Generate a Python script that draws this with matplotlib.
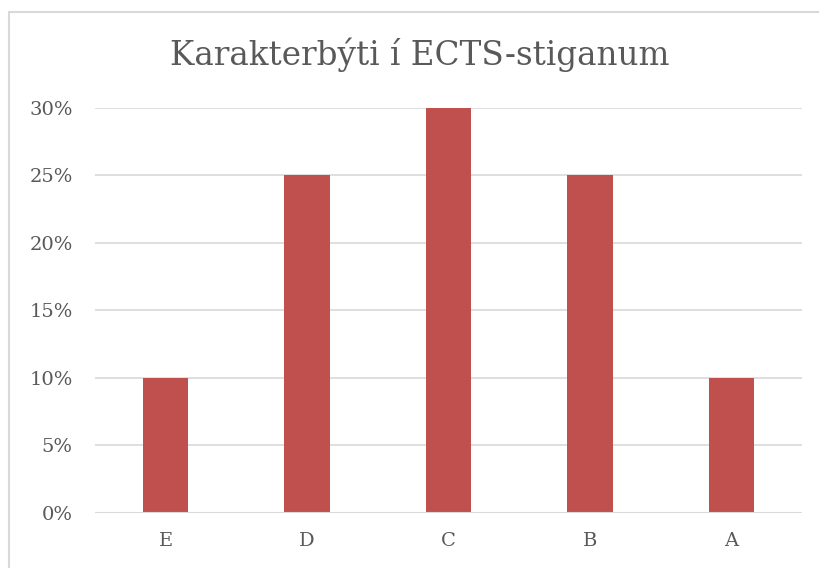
import matplotlib
matplotlib.use("Agg")
import matplotlib.pyplot as plt
from matplotlib.patches import Rectangle
from matplotlib.ticker import FuncFormatter

categories = ["E", "D", "C", "B", "A"]
values = [0.10, 0.25, 0.30, 0.25, 0.10]
title = "Karakterbýti í ECTS-stiganum"

W, H = 820, 568
fig = plt.figure(figsize=(W / 100, H / 100), dpi=100)
plt.rcParams['font.family'] = ['DejaVu Serif']

# outer border (left and top visible)
fig.patches.append(Rectangle((9 / W, -0.1), 1.2, 1 - 12 / H + 0.1, transform=fig.transFigure,
                             fill=False, edgecolor='#D9D9D9', linewidth=1.5))

left, right = 95 / W, 802 / W
bottom, top = 1 - 513 / H, 1 - 107.5 / H
ax = fig.add_axes([left, bottom, right - left, top - bottom])
x = range(len(categories))
ax.bar(x, values, width=0.32, color='#C0504D', zorder=3)
ax.set_xlim(-0.5, len(categories) - 0.5)
ax.set_ylim(0, 0.30)
ax.set_yticks([0, 0.05, 0.10, 0.15, 0.20, 0.25, 0.30])
ax.yaxis.set_major_formatter(FuncFormatter(lambda v, p: f"{round(v * 100)}%"))
ax.set_xticks(list(x))
ax.set_xticklabels(categories)
ax.grid(axis='y', color='#D9D9D9', linewidth=1.2, zorder=0)
for s in ax.spines.values():
    s.set_visible(False)
ax.axhline(0, color='#D9D9D9', linewidth=1.5, zorder=4)
ax.tick_params(axis='both', length=0, labelsize=14, colors='#595959')
ax.tick_params(axis='y', pad=16)
ax.tick_params(axis='x', pad=14)
for lab in ax.get_yticklabels():
    lab.set_horizontalalignment('right')

fig.text(420 / W, 1 - 55 / H, title, ha='center', va='center', fontsize=23.5, color='#595959')

fig.savefig("out.png", dpi=100)
